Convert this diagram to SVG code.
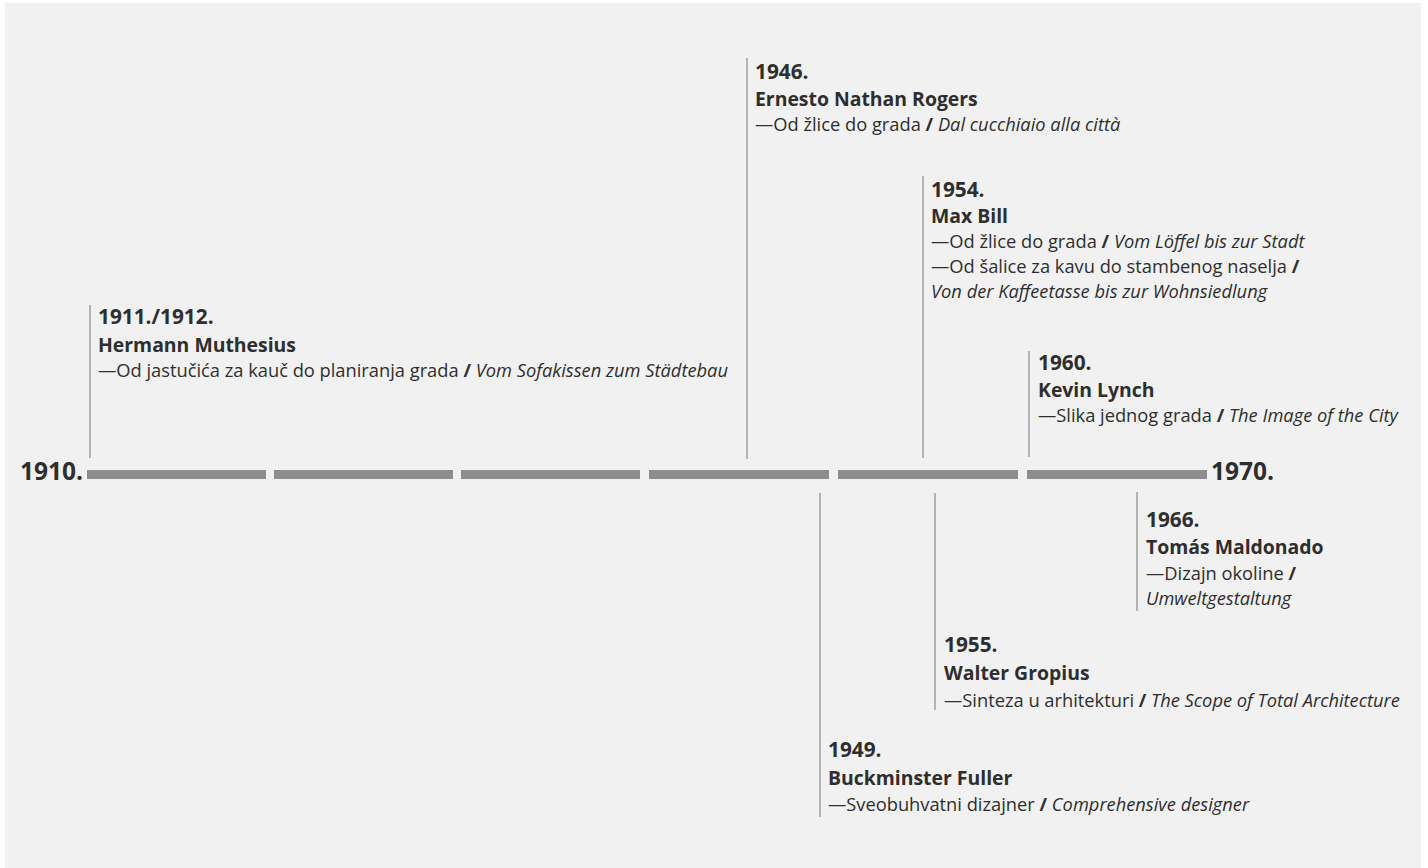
<svg xmlns="http://www.w3.org/2000/svg" width="1428" height="868" viewBox="0 0 1428 868">
<style>
text{font-family:"Open Sans","Noto Sans","Liberation Sans",sans-serif;fill:#2e2e2e}
.y{font-size:20.8px;font-weight:bold}
.n{font-size:19.4px;font-weight:bold}
.d{font-size:18.3px}
.i{font-style:italic}
.s{font-weight:bold}
.big{font-size:24.5px;font-weight:bold}
.tick{stroke:#b3b3b3;stroke-width:2;fill:none}
.bar{fill:#8d8d8f}
</style>
<rect x="0" y="0" width="1428" height="868" fill="#ffffff"/>
<rect x="5" y="3" width="1416" height="865" fill="#f1f1f1"/>
<g id="axis">
<text class="big" x="83" y="480" text-anchor="end">1910.</text>
<rect class="bar" x="87" y="470" width="179" height="9"/>
<rect class="bar" x="274" y="470" width="179" height="9"/>
<rect class="bar" x="461" y="470" width="179" height="9"/>
<rect class="bar" x="649" y="470" width="180" height="9"/>
<rect class="bar" x="838" y="470" width="180" height="9"/>
<rect class="bar" x="1027" y="470" width="180" height="9"/>
<text class="big" x="1211" y="480">1970.</text>
</g>
<g id="connectors">
<line class="tick" x1="90" y1="305" x2="90" y2="458"/>
<line class="tick" x1="747" y1="58" x2="747" y2="459"/>
<line class="tick" x1="923" y1="176" x2="923" y2="458"/>
<line class="tick" x1="1029" y1="351" x2="1029" y2="457"/>
<line class="tick" x1="820" y1="493" x2="820" y2="817"/>
<line class="tick" x1="935" y1="493" x2="935" y2="710"/>
<line class="tick" x1="1137" y1="492" x2="1137" y2="611"/>
</g>
<g id="muthesius">
<text class="y" x="98" y="324">1911./1912.</text>
<text class="n" x="98" y="352">Hermann Muthesius</text>
<text class="d" x="98" y="377">—Od jastučića za kauč do planiranja grada <tspan class="s">/</tspan> <tspan class="i">Vom Sofakissen zum Städtebau</tspan></text>
</g>
<g id="rogers">
<text class="y" x="755" y="79">1946.</text>
<text class="n" x="755" y="106">Ernesto Nathan Rogers</text>
<text class="d" x="755" y="131">—Od žlice do grada <tspan class="s">/</tspan> <tspan class="i">Dal cucchiaio alla città</tspan></text>
</g>
<g id="bill">
<text class="y" x="931" y="197">1954.</text>
<text class="n" x="931" y="223">Max Bill</text>
<text class="d" x="931" y="248">—Od žlice do grada <tspan class="s">/</tspan> <tspan class="i">Vom Löffel bis zur Stadt</tspan></text>
<text class="d" x="931" y="273">—Od šalice za kavu do stambenog naselja <tspan class="s">/</tspan></text>
<text class="d i" x="931" y="298">Von der Kaffeetasse bis zur Wohnsiedlung</text>
</g>
<g id="lynch">
<text class="y" x="1038" y="370">1960.</text>
<text class="n" x="1038" y="397">Kevin Lynch</text>
<text class="d" x="1038" y="422">—Slika jednog grada <tspan class="s">/</tspan> <tspan class="i">The Image of the City</tspan></text>
</g>
<g id="maldonado">
<text class="y" x="1146" y="527">1966.</text>
<text class="n" x="1146" y="554">Tomás Maldonado</text>
<text class="d" x="1146" y="580">—Dizajn okoline <tspan class="s">/</tspan></text>
<text class="d i" x="1146" y="605">Umweltgestaltung</text>
</g>
<g id="gropius">
<text class="y" x="944" y="652">1955.</text>
<text class="n" x="944" y="680">Walter Gropius</text>
<text class="d" x="944" y="707">—Sinteza u arhitekturi <tspan class="s">/</tspan> <tspan class="i">The Scope of Total Architecture</tspan></text>
</g>
<g id="fuller">
<text class="y" x="828" y="757">1949.</text>
<text class="n" x="828" y="785">Buckminster Fuller</text>
<text class="d" x="828" y="811">—Sveobuhvatni dizajner <tspan class="s">/</tspan> <tspan class="i">Comprehensive designer</tspan></text>
</g>
</svg>
